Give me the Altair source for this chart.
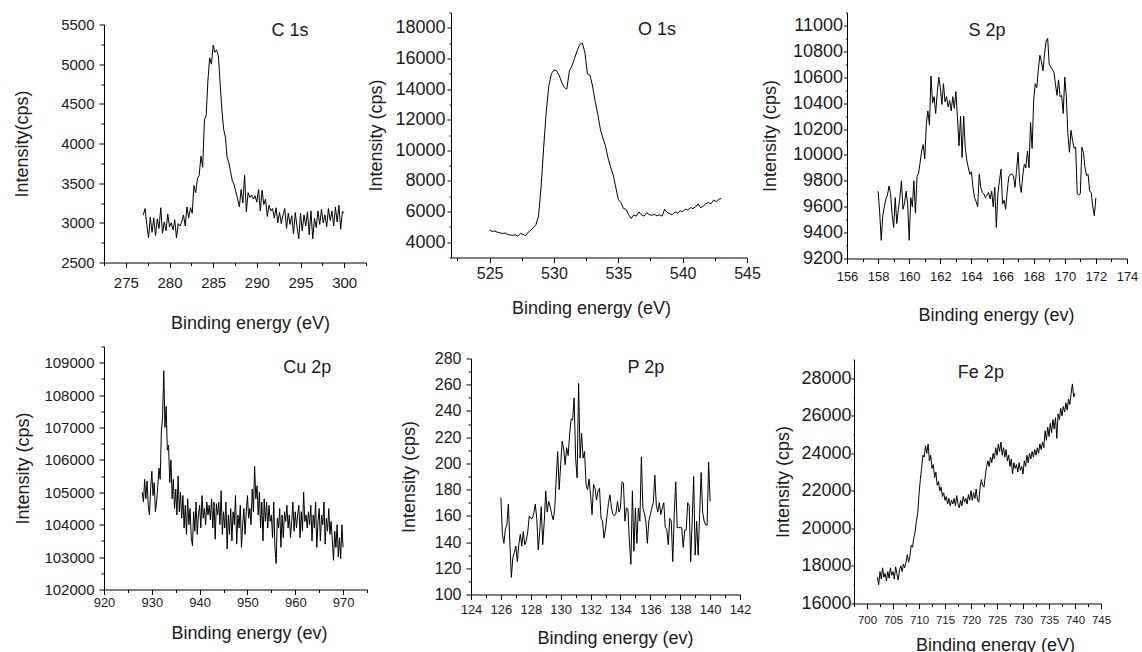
import altair as alt
import pandas as pd

FONT = "Liberation Sans"
INK = "#1a1a1a"

# ---------------- data (intensities) ----------------
c1s_start, c1s_step = 277.0, 0.2
c1s_cps = [3100, 3180, 2980, 2810, 3070, 2880, 3060, 2840, 3050, 2930,
           3190, 2870, 3010, 2900, 3110, 2950, 3000, 2910, 3040, 2810,
           2990, 2960, 3010, 3100, 2960, 3200, 3060, 3190, 3120, 3470,
           3380, 3560, 3600, 3840, 3700, 4300, 4350, 4800, 5080, 5000,
           5240, 5150, 5180, 5100, 4760, 4420, 4180, 4080, 3820, 3760,
           3640, 3530, 3480, 3390, 3300, 3200, 3420, 3250, 3600, 3140,
           3380, 3320, 3350, 3300, 3340, 3260, 3420, 3150, 3410, 3230,
           3300, 3080, 3220, 3150, 3180, 3060, 3190, 3000, 3130, 2990,
           3100, 3180, 2930, 3120, 2980, 3090, 2860, 3130, 2950, 2800,
           3120, 2900, 3100, 2960, 3140, 2850, 3150, 2800, 3060, 2940,
           3150, 2980, 3170, 3000, 3100, 2950, 3180, 3030, 3150, 2960,
           3200, 3010, 3220, 2920, 3140, 3130]

o1s_start, o1s_step = 525.0, 0.2
o1s_cps = [4800, 4700, 4730, 4650, 4620, 4560, 4600, 4510, 4470, 4450,
           4480, 4380, 4560, 4500, 4430, 4650, 4780, 4950, 5150, 5700,
           7600, 10200, 12500, 14200, 15000, 15250, 15200, 14900, 14450, 14100,
           14000, 15200, 15500, 16000, 16500, 16900, 17000, 16400, 15000, 14900,
           14200, 13200, 12400, 11400, 10800, 10300, 9500, 8900, 8400, 7600,
           6800, 6600, 6200, 6150, 5800, 5550, 5780, 5700, 5980, 5780,
           5700, 5920, 5800, 5760, 5820, 5720, 5790, 5700, 6150, 5950,
           5850, 5800, 5980, 5900, 6050, 6000, 6150, 6100, 6250, 6200,
           6300, 6500, 6250, 6350, 6500, 6600, 6500, 6750, 6650, 6800,
           6850]

s2p_start, s2p_step = 158.0, 0.1
s2p_cps = [9720, 9560, 9340, 9530, 9600, 9660, 9690, 9760, 9700, 9540,
           9440, 9670, 9470, 9580, 9670, 9800, 9580, 9630, 9720, 9620,
           9340, 9670, 9600, 9800, 9550, 9830, 9860, 9940, 10030, 10080,
           9970, 10240, 10340, 10230, 10610, 10400, 10450, 10320, 10480, 10600,
           10520, 10390, 10550, 10410, 10450, 10370, 10420, 10340, 10450, 10360,
           10490, 10290, 10070, 10300, 9980, 10300, 10060, 9960, 9900, 9850,
           9870, 9750, 9670, 9640, 9600, 9850, 9750, 9710, 9700, 9670,
           9690, 9710, 9660, 9720, 9600, 9750, 9440, 9700, 9800, 9890,
           9620, 9650, 9580, 9720, 9830, 9850, 9850, 9840, 9750, 9880,
           10020, 9780, 9710, 9840, 9930, 9900, 10030, 9900, 10250, 10050,
           10420, 10550, 10520, 10660, 10770, 10720, 10650, 10780, 10880, 10900,
           10700, 10680, 10660, 10640, 10550, 10460, 10580, 10450, 10460, 10320,
           10600, 10450, 10160, 10020, 10190, 10110, 10050, 10060, 9700, 9690,
           9700, 10060, 10020, 9900, 9840, 9850, 9720, 9710, 9600, 9530,
           9670]

cu2p_start, cu2p_step = 928.0, 0.25
cu2p_cps = [105000, 104700, 105400, 104800, 105350, 104600, 104300, 105100,
            105650, 104900, 105300, 104400, 104700, 105200, 105750, 105400,
            106900, 107300, 108750, 107000, 107650, 106300, 106450, 105300,
            106000, 104800, 105400, 104500, 105100, 104300, 105500, 104400,
            105000, 104200, 104900, 103900, 104600, 103700, 104800, 104000,
            104500, 103600, 103350, 104400, 103800, 104700, 103700, 104300,
            104600, 103900, 104900, 104200, 104500, 104000, 104700, 104300,
            104600, 104150, 104800, 103900, 104700, 103550, 104650, 104300,
            104700, 104000, 105050, 103700, 104400, 103900, 104700, 103250,
            104300, 103700, 104500, 103500, 104400, 104000, 104900, 103400,
            104300, 103900, 104600, 103300, 104000, 104500, 103700, 104400,
            104900, 104200, 104500, 104000, 105100, 104400, 105800, 104800,
            105200, 104300, 105000, 103900, 104700, 103500, 104800, 104100,
            104700, 103900, 104600, 104100, 104300, 103600, 104700, 103300,
            102800, 104200, 103900, 104500, 103300, 104300, 103600, 104400,
            104100, 104600, 103900, 104300, 103600, 104100, 104700, 103800,
            104400, 103900, 104300, 104600, 103600, 104400, 103800, 105000,
            104100, 104300, 103900, 104400, 104000, 104600, 103500, 104300,
            103900, 104700, 103300, 104100, 104500, 103500, 104300, 104000,
            104700, 103400, 104200, 103800, 104500, 103700, 104100, 103500,
            102900, 103800, 103300, 104000, 103000, 103600, 102950, 104000,
            103300]

p2p_start, p2p_step = 126.0, 0.1
p2p_cps = [174, 146, 139, 150, 153, 169, 140, 113, 128, 132,
           137, 125, 138, 146, 137, 148, 138, 141, 148, 160,
           158, 158, 162, 169, 158, 134, 148, 167, 138, 155,
           179, 163, 171, 167, 161, 157, 165, 188, 209, 180,
           199, 217, 211, 199, 212, 206, 222, 234, 233, 250,
           204, 189, 261, 204, 223, 204, 209, 184, 180, 188,
           176, 161, 184, 181, 172, 179, 181, 158, 156, 143,
           150, 160, 170, 176, 166, 161, 160, 162, 171, 163,
           166, 186, 185, 156, 166, 165, 140, 123, 179, 133,
           166, 139, 166, 156, 205, 166, 162, 156, 139, 156,
           161, 166, 170, 191, 168, 163, 170, 161, 166, 170,
           151, 150, 138, 158, 156, 125, 161, 186, 151, 151,
           151, 151, 136, 149, 149, 170, 168, 125, 156, 190,
           130, 156, 130, 161, 193, 163, 156, 153, 153, 201,
           171]

fe2p_start, fe2p_step = 702.0, 0.25
fe2p_cps = [17400, 17000, 17700, 17300, 17900, 17400, 17600, 17200,
            17700, 17350, 17900, 17500, 17700, 17300, 17950, 17600,
            17250, 17800, 18000, 17700, 18100, 17900, 18200, 18600,
            18200, 18500, 19100, 19000, 19500, 19800, 20400, 20800,
            21800, 22600, 23200, 23900, 23800, 24400, 24000, 24500,
            23600, 23900, 23200, 23400, 22700, 23000, 22300, 22500,
            22000, 22200, 21700, 21900, 21500, 21700, 21300, 21600,
            21200, 21500, 21300, 21600, 21200, 21750, 21300, 21100,
            21500, 21200, 21700, 21400, 21600, 21300, 21800, 21500,
            22000, 21500, 21900, 21600, 22100, 21500, 21400, 22200,
            22600, 22300, 22200, 22800, 23300, 23600, 23300, 23800,
            23500, 24000, 23700, 24300, 23900, 24500, 24100, 24600,
            23900, 24300, 23800, 24200, 23600, 23900, 23300, 23700,
            22900, 23500, 23200, 23400, 23000, 23500, 23100, 23300,
            22900, 23600, 23300, 23900, 23500, 24000, 23700, 24100,
            23800, 24200, 23900, 24300, 24000, 24500, 24200, 24600,
            24300, 25200, 24700, 25400, 24900, 25600, 25100, 25800,
            25300, 25900, 24800, 26100, 25800, 26400, 26000, 26500,
            26200, 26700, 26300, 26900, 26600, 27200, 27700, 27000,
            27200]

# ---------------- axis tick values ----------------
c1s_xticks = [272.5, 275, 277.5, 280, 282.5, 285, 287.5, 290, 292.5, 295, 297.5, 300, 302.5]
c1s_yticks = [2500, 2750, 3000, 3250, 3500, 3750, 4000, 4250, 4500, 4750, 5000, 5250, 5500]
o1s_xticks = [522.5, 525, 527.5, 530, 532.5, 535, 537.5, 540, 542.5, 545]
o1s_yticks = [3000, 4000, 5000, 6000, 7000, 8000, 9000, 10000, 11000, 12000,
              13000, 14000, 15000, 16000, 17000, 18000, 19000]
s2p_xticks = [156, 157, 158, 159, 160, 161, 162, 163, 164, 165, 166, 167, 168,
              169, 170, 171, 172, 173, 174]
s2p_yticks = [9200, 9300, 9400, 9500, 9600, 9700, 9800, 9900, 10000, 10100,
              10200, 10300, 10400, 10500, 10600, 10700, 10800, 10900, 11000, 11100]
cu2p_xticks = [920, 925, 930, 935, 940, 945, 950, 955, 960, 965, 970, 975]
cu2p_yticks = [102000, 102500, 103000, 103500, 104000, 104500, 105000, 105500,
               106000, 106500, 107000, 107500, 108000, 108500, 109000, 109500]
p2p_xticks = [124, 125, 126, 127, 128, 129, 130, 131, 132, 133, 134, 135, 136,
              137, 138, 139, 140, 141, 142]
p2p_yticks = [100, 110, 120, 130, 140, 150, 160, 170, 180, 190, 200, 210, 220,
              230, 240, 250, 260, 270, 280]
fe2p_xticks = [697.5, 700, 702.5, 705, 707.5, 710, 712.5, 715, 717.5, 720, 722.5,
               725, 727.5, 730, 732.5, 735, 737.5, 740, 742.5, 745]
fe2p_yticks = [16000, 17000, 18000, 19000, 20000, 21000, 22000, 23000, 24000,
               25000, 26000, 27000, 28000, 29000]

labels = ["C 1s", "O 1s", "S 2p", "Cu 2p", "P 2p", "Fe 2p"]
x_titles = ["Binding energy (eV)", "Binding energy (eV)", "Binding energy  (ev)",
            "Binding energy  (ev)", "Binding energy  (ev)", "Binding energy (eV)"]
y_titles = ["Intensity(cps)", "Intensity (cps)", "Intensity (cps)",
            "Intensity  (cps)", "Intensity (cps)", "Intensity (cps)"]


def energies(start, step, n):
    return [round(start + step * i, 3) for i in range(n)]


# ---------------- styles / layout ----------------
STYLE = [
    dict(w=262, h=238, xdom=[272.5, 302.5], ydom=[2500, 5500], xm=5, ym=500,
         xl=15, xlp=8, xtp=23.5, xtx=146, yl=15, ylp=5, ytp=29, yt=5,
         lab=(293.8, 5420), drop=4),
    dict(w=296, h=245, xdom=[522, 545], ydom=[3000, 19000], xm=5, ym=2000,
         xl=16, xlp=2.5, xtp=18, xtx=140, yl=18, ylp=2, ytp=9.5, yt=4,
         lab=(538.0, 17870), drop=0),
    dict(w=280, h=246, xdom=[156, 174], ydom=[9200, 11100], xm=2, ym=200,
         xl=13, xlp=7, xtp=22.5, xtx=149, yl=18, ylp=1, ytp=13, yt=3.5,
         lab=(165.0, 10960), drop=0),
    dict(w=263, h=243, xdom=[920, 975], ydom=[102000, 109500], xm=10, ym=1000,
         xl=13, xlp=2, xtp=14.5, xtx=145, yl=15, ylp=5, ytp=11.5, yt=5,
         lab=(962.5, 108850), drop=0),
    dict(w=269, h=236, xdom=[124, 142], ydom=[100, 280], xm=2, ym=20,
         xl=13, xlp=3.5, xtp=13.5, xtx=144, yl=16, ylp=5, ytp=16, yt=5,
         lab=(135.7, 272.5), drop=2),
    dict(w=247, h=244, xdom=[697.5, 745], ydom=[16000, 29000], xm=5, ym=2000,
         xl=11.5, xlp=6, xtp=10, xtx=141, yl=18, ylp=0, ytp=8, yt=3,
         lab=(721.9, 28300), drop=1),
]


def major(m):
    return f"abs(datum.value / {m} - round(datum.value / {m})) < 0.001"


def spacer(h):
    # invisible empty view used only to push a panel down inside its cell
    return alt.Chart(pd.DataFrame({"s": [0]})).mark_point().encode(
        opacity=alt.value(0)).properties(width=1, height=h)


def panel(x, y, xticks, yticks, label, xtitle, ytitle, st):
    df = pd.DataFrame({"E": x, "I": y})
    common = dict(grid=False, domainColor="black", tickColor="black", tickWidth=1,
                  domainWidth=1, labelColor=INK, titleColor=INK, labelFont=FONT,
                  titleFont=FONT, titleFontWeight="normal", labelOverlap=False,
                  labelBound=False, labelFlush=False, format="d", titleFontSize=18,
                  tickCount=500)
    xaxis = alt.Axis(values=xticks, title=xtitle,
                     labelExpr=f"{major(st['xm'])} ? datum.label : ''",
                     tickSize={"expr": f"{major(st['xm'])} ? 5 : 3"},
                     labelFontSize=st["xl"], labelPadding=st["xlp"],
                     titlePadding=st["xtp"], titleX=st["xtx"], **common)
    yaxis = alt.Axis(values=yticks, title=ytitle,
                     labelExpr=f"{major(st['ym'])} ? datum.label : ''",
                     tickSize={"expr": f"{major(st['ym'])} ? {st['yt']} : {st['yt'] - 2}"},
                     labelFontSize=st["yl"], labelPadding=st["ylp"],
                     titlePadding=st["ytp"], **common)
    line = alt.Chart(df).mark_line(color="black", strokeWidth=1).encode(
        x=alt.X("E:Q", scale=alt.Scale(domain=st["xdom"], nice=False, zero=False), axis=xaxis),
        y=alt.Y("I:Q", scale=alt.Scale(domain=st["ydom"], nice=False, zero=False), axis=yaxis),
    )
    txt = alt.Chart(pd.DataFrame({"label": [label]})).mark_text(
        font=FONT, fontSize=18, color=INK, align="center", baseline="middle"
    ).encode(x=alt.datum(st["lab"][0]), y=alt.datum(st["lab"][1]), text="label:N")
    ch = alt.layer(line, txt).properties(width=st["w"], height=st["h"])
    if st["drop"]:
        return alt.vconcat(spacer(st["drop"]), ch, spacing=0)
    return ch


series = [
    (energies(c1s_start, c1s_step, len(c1s_cps)), c1s_cps, c1s_xticks, c1s_yticks),
    (energies(o1s_start, o1s_step, len(o1s_cps)), o1s_cps, o1s_xticks, o1s_yticks),
    (energies(s2p_start, s2p_step, len(s2p_cps)), s2p_cps, s2p_xticks, s2p_yticks),
    (energies(cu2p_start, cu2p_step, len(cu2p_cps)), cu2p_cps, cu2p_xticks, cu2p_yticks),
    (energies(p2p_start, p2p_step, len(p2p_cps)), p2p_cps, p2p_xticks, p2p_yticks),
    (energies(fe2p_start, fe2p_step, len(fe2p_cps)), fe2p_cps, fe2p_xticks, fe2p_yticks),
]

panels = [panel(s[0], s[1], s[2], s[3], labels[i], x_titles[i], y_titles[i], STYLE[i])
          for i, s in enumerate(series)]

row1 = alt.hconcat(alt.hconcat(panels[0], panels[1], spacing=0), panels[2], spacing=0)
row2 = alt.hconcat(alt.hconcat(panels[3], panels[4], spacing=32), panels[5], spacing=23)

chart = alt.vconcat(row1, row2, spacing=7).properties(
    padding={"left": 13, "top": 3.5, "right": 0, "bottom": 0},
    background="white",
).configure_view(stroke=None)

chart.save("out.html", embed_options={"renderer": "svg", "actions": False})
